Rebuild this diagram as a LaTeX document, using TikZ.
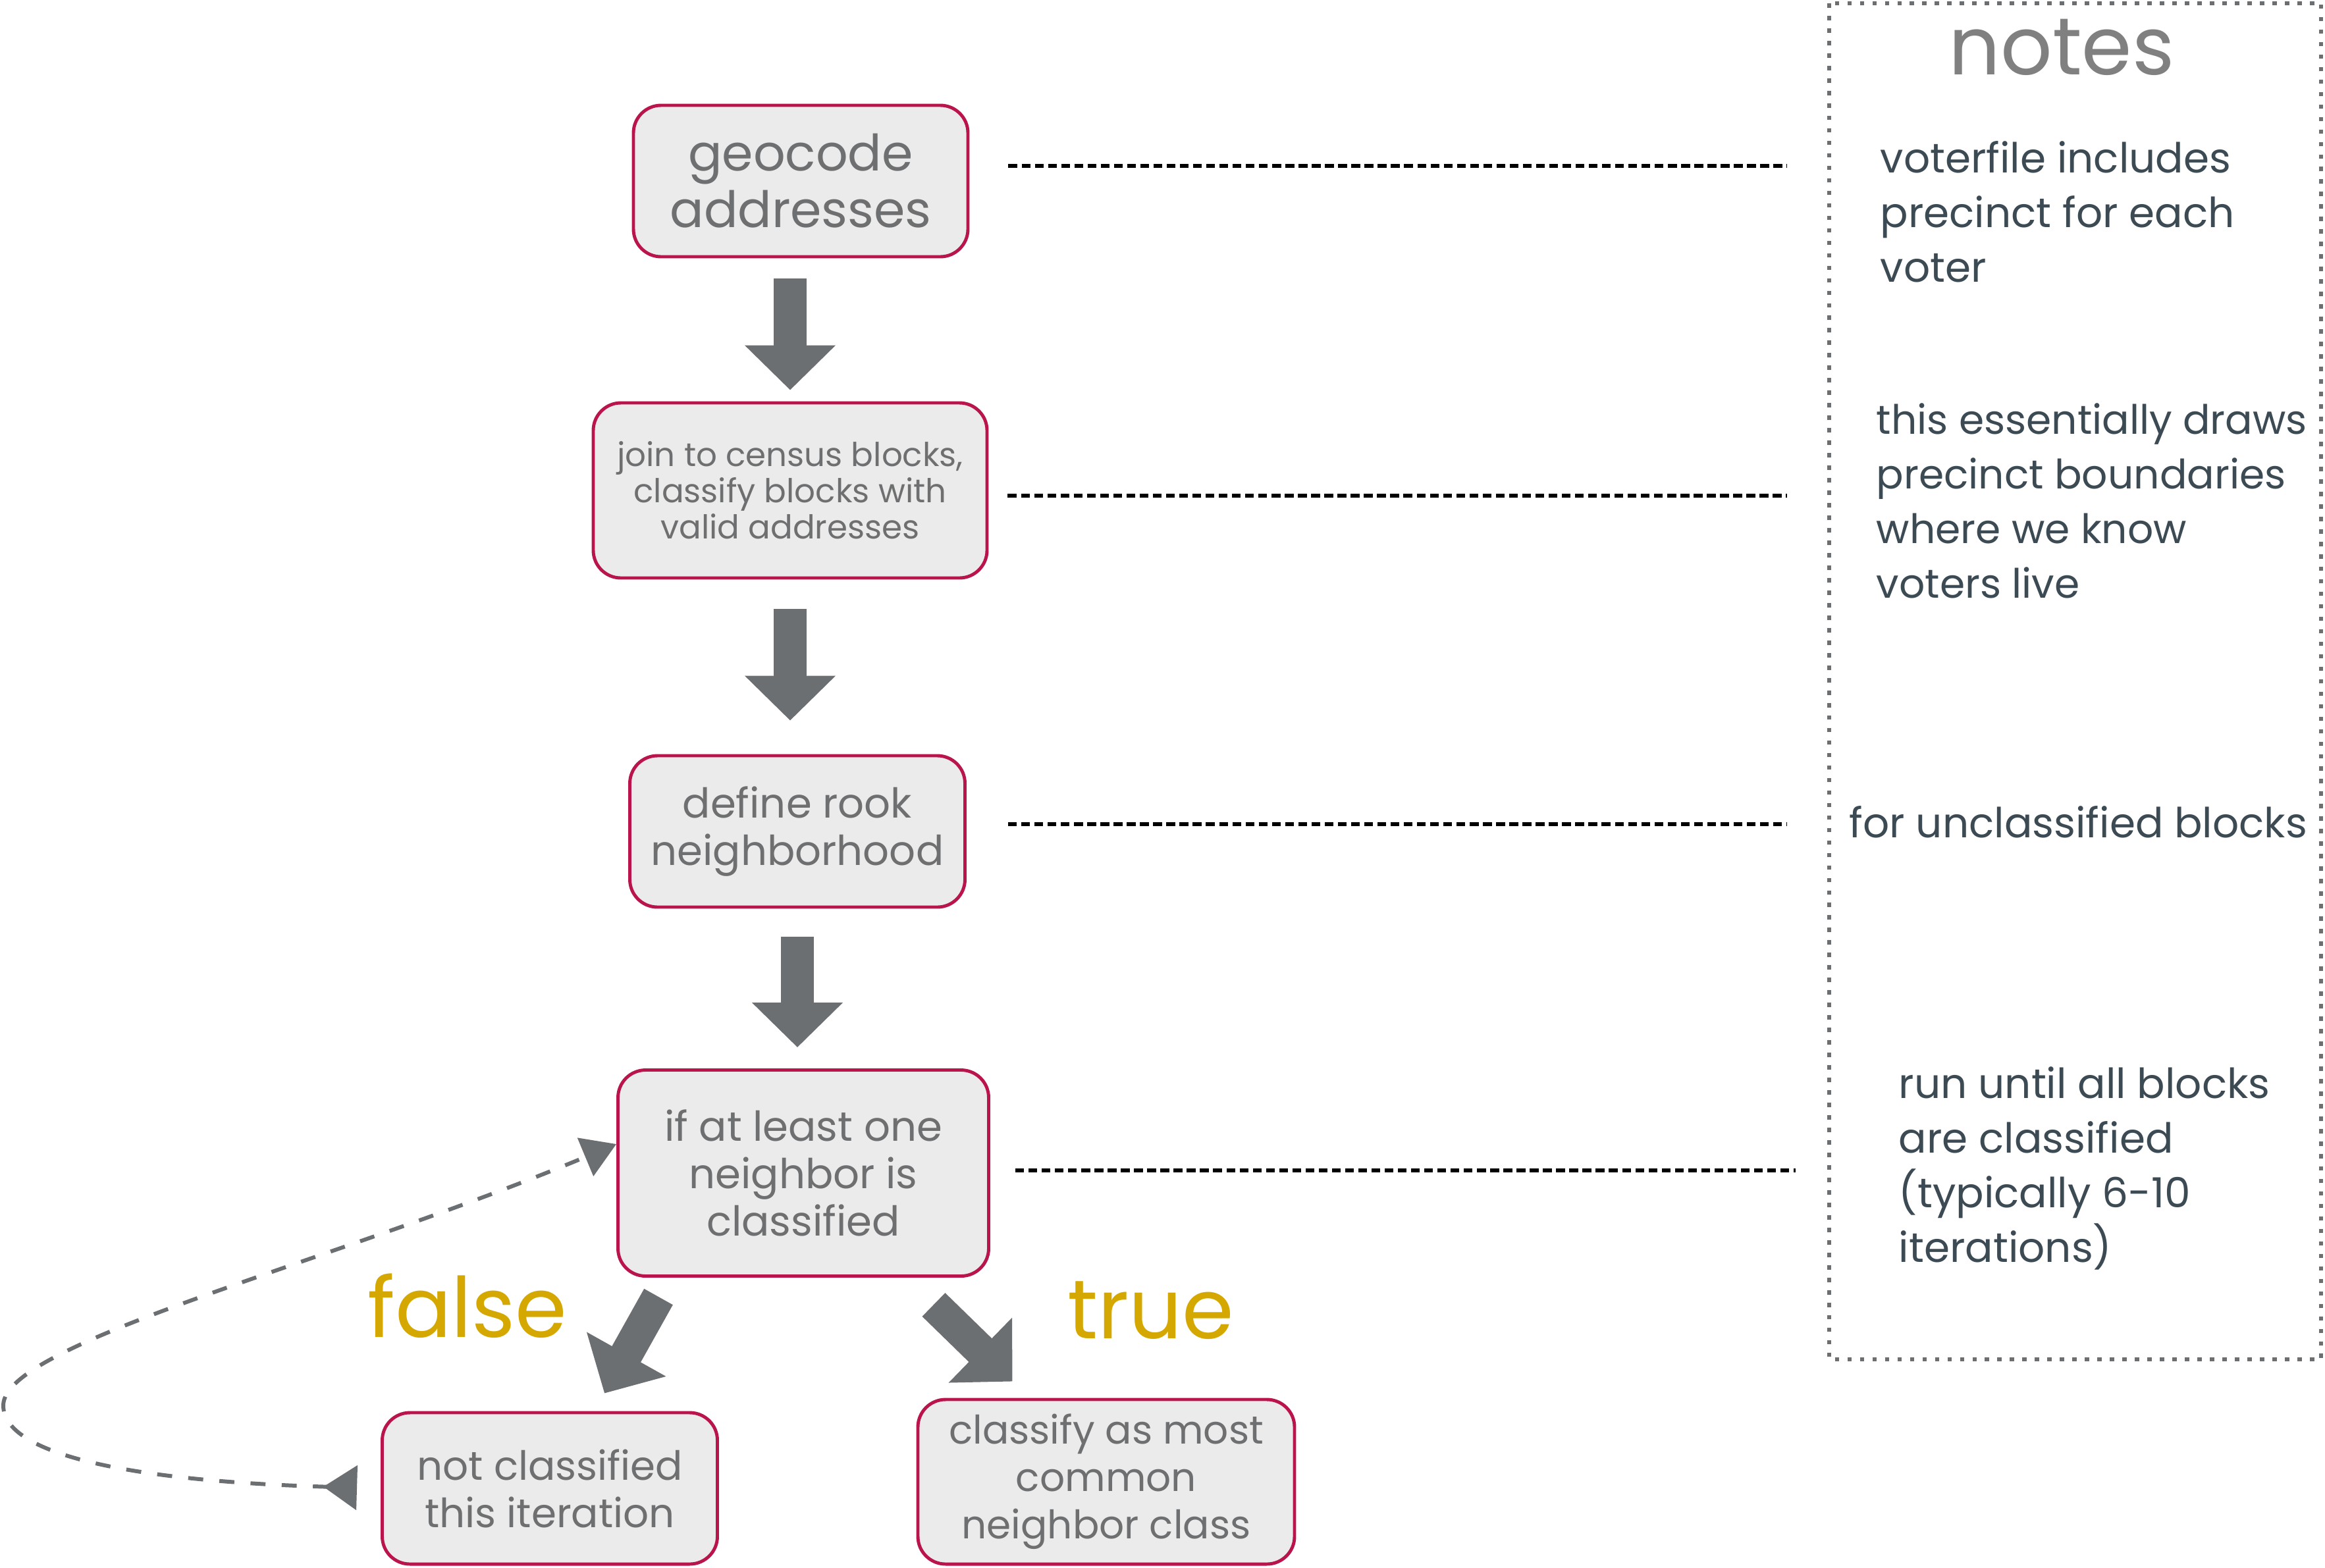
\documentclass[tikz,border=0pt]{standalone}
\usepackage{fontspec}
\setmainfont{Poppins}
\usetikzlibrary{positioning, arrows.meta}
\definecolor{boxred}{RGB}{185,20,75}
\definecolor{boxfill}{RGB}{235,235,235}
\definecolor{boxtext}{RGB}{110,111,113}
\definecolor{arrowgray}{RGB}{108,111,114}
\definecolor{gold}{RGB}{212,168,0}
\definecolor{notetext}{RGB}{60,74,84}
\tikzset{
	process/.style={draw=boxred, fill=boxfill, line width=1.4pt, rounded corners=0.42cm, text=boxtext, align=center, inner sep=0pt}, % the red rounded boxes
	block arrow/.style={draw=arrowgray, line width=0.5cm, -{Triangle[width=1.34cm, length=0.68cm, fill=arrowgray]}}, % thick gray arrows
	link/.style={line width=1.9pt, dash pattern=on 3.8pt off 1.9pt}, % dashed lines to the notes
	note/.style={text=notetext, align=left, anchor=base west, inner sep=0pt, font=\fontsize{17.9}{23.6}\selectfont}, % text in the notes column, placed by its last line
	verdict/.style={text=gold, font=\fontsize{36}{40}\selectfont, anchor=base}, % true / false labels
	mid/.style={font=\fontsize{17.8}{20.5}\selectfont},
}
\begin{document}
\begin{tikzpicture}
	\useasboundingbox (0,0) rectangle (35.31,-23.81);
	% steps
	\node[process, minimum width=5.08cm, minimum height=2.30cm, font=\fontsize{21.7}{24.5}\selectfont] (b1) at (12.16,-2.75) {geocode\\addresses};
	\node[process, minimum width=5.98cm, minimum height=2.66cm, font=\fontsize{14.2}{15.7}\selectfont] (b2) at (12.00,-7.45) {join to census blocks,\\classify blocks with\\valid addresses};
	\node[process, mid, minimum width=5.09cm, minimum height=2.30cm] (b3) at (12.11,-12.63) {define rook\\neighborhood};
	\node[process, mid, minimum width=5.63cm, minimum height=3.13cm] (b4) at (12.20,-17.82) {if at least one\\neighbor is\\classified};
	\node[process, minimum width=5.09cm, minimum height=2.30cm, font=\fontsize{17.4}{20.5}\selectfont] (b5) at (8.35,-22.61) {not classified\\this iteration};
	\node[process, minimum width=5.72cm, minimum height=2.50cm, font=\fontsize{17}{20.5}\selectfont] (b6) at (16.80,-22.51) {classify as most\\common\\neighbor class};
	% arrows between steps
	\draw[block arrow, shorten <=0.31cm, shorten >=0.17cm] (b1.south -| b2.north) -- (b2.north);
	\draw[block arrow, shorten <=0.45cm, shorten >=0.51cm] (b2.south) -- (b2.south |- b3.north);
	\draw[block arrow, shorten <=0.43cm, shorten >=0.32cm] (b3.south) -- (b3.south |- b4.north);
	\draw[block arrow] ([xshift=0.64cm, yshift=-0.29cm]b4.south west) -- ([xshift=0.83cm, yshift=0.27cm]b5.north);
	\draw[block arrow] ([xshift=-0.86cm, yshift=-0.41cm]b4.south east) -- ([xshift=1.46cm, yshift=0.25cm]b6.north west);
	\node[verdict] (no) at (7.10,-20.31) {false};
	\node[verdict] (yes) at (17.48,-20.33) {true};
	% back to the test
	\draw[arrowgray, line width=1.7pt, dash pattern=on 6.5pt off 7pt, {Triangle[reversed, width=0.67cm, length=0.51cm]}-{Triangle[width=0.62cm, length=0.51cm]}, shorten <=0.36cm]
		(b5.west) .. controls (2.0,-22.5) and (0.05,-22.1) .. (0.05,-21.35)
		.. controls (0.05,-20.4) and (5.0,-19.2) .. ([yshift=0.44cm]b4.west);
	% notes column
	\draw[arrowgray, line width=1.9pt, dash pattern=on 1.9pt off 3.5pt] (27.78,-0.05) rectangle (35.25,-20.65);
	\node[text=gray, font=\fontsize{35}{40}\selectfont, anchor=base] (title) at (31.31,-1.13) {notes};
	\node[note] (n1) at (28.55,-4.28) {voterfile includes\\precinct for each\\voter};
	\node[note, font=\fontsize{17.5}{23.6}\selectfont] (n2) at (28.49,-9.08) {this essentially draws\\precinct boundaries\\where we know\\voters live};
	\node[note] (n3) at (28.08,-12.72) {for unclassified blocks};
	\node[note] (n4) at (28.83,-19.17) {run until all blocks\\are classified\\(typically 6-10\\iterations)};
	\coordinate (e1) at (27.14,-2.52);
	\coordinate (e2) at (27.14,-7.53);
	\coordinate (e3) at (27.14,-12.52);
	\coordinate (e4) at (27.27,-17.78);
	\draw[link, shorten <=0.59cm] (b1.east |- e1) -- (e1);
	\draw[link, shorten <=0.29cm] (b2.east |- e2) -- (e2);
	\draw[link, shorten <=0.63cm] (b3.east |- e3) -- (e3);
	\draw[link, shorten <=0.38cm] (b4.east |- e4) -- (e4);
\end{tikzpicture}
\end{document}
